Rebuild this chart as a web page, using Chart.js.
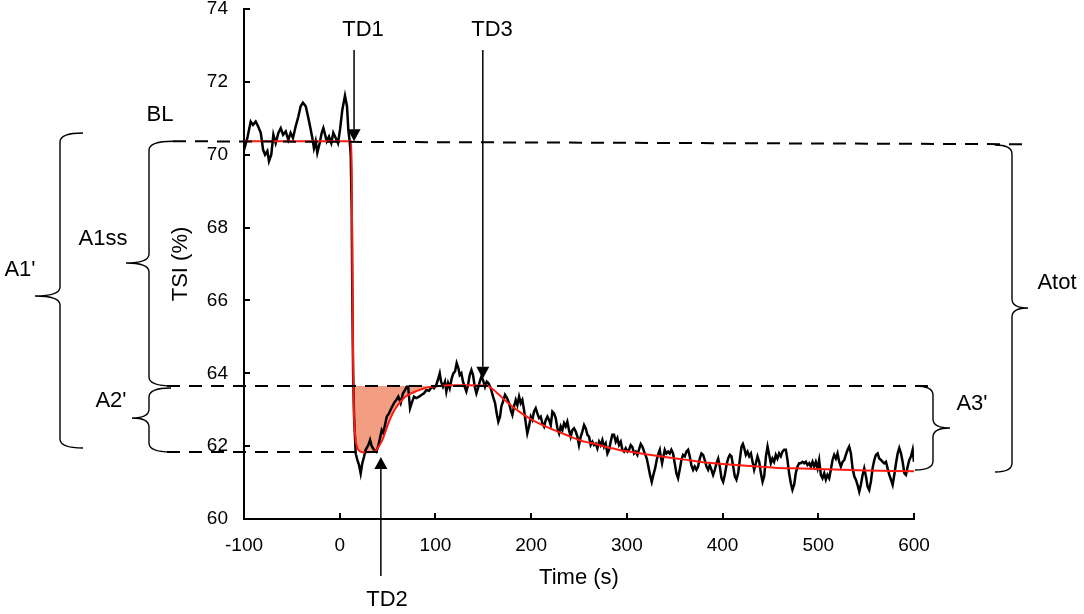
<!DOCTYPE html>
<html>
<head>
<meta charset="utf-8">
<script src="https://cdn.jsdelivr.net/npm/chart.js@4.4.1/dist/chart.umd.min.js"></script>
<style>
	html, body { margin: 0; padding: 0; background: #fff; }
	#wrap { width: 1084px; height: 614px; position: relative; }
</style>
</head>
<body>
<div id="wrap"><canvas id="tsi"></canvas></div>
<script>
// TSI response: raw trace, fitted curve and annotation levels

const timeS = [
	-100, -96.5, -93, -90.6, -87.8, -85.3, -82.5, -80, -78, -75.6, -73.9, -71.5, -69.3, -66.9, -64.1, -61.6, -59.2, -56.4, -53.7, -51.3,
	-48.8, -46, -43.2, -40.8, -38.4, -35.5, -33.1, -31, -28.6, -26.9, -25.1, -23.4, -20.9, -18.8, -17.1, -15.3, -13.6, -11.2, -8.8, -6.7,
	-4.2, -1.8, 0.3, 2.7, 5.5, 7.6, 9, 10.4, 11.5, 12.5, 13.2, 14, 15, 16.7, 18.4, 20.2, 21.9, 23.6, 25.4, 27.1,
	29.9, 31.7, 33.4, 35.8, 38.2, 40.3, 42.1, 43.9, 45.6, 47.3, 49.1, 51.5, 53.9, 56.7, 59.1, 61.2, 63.7, 66.1, 68.2, 70,
	71.5, 72.4, 73.5, 75.2, 77.6, 80, 82.9, 85.7, 88.1, 90.5, 93.3, 96.1, 98.5, 100.9, 103, 104.5, 105.9, 107.9, 110, 111.4,
	113.2, 114.9, 117, 118.7, 120.5, 122.2, 124, 125.4, 127.1, 128.8, 130.6, 132.3, 134.1, 135.8, 137.6, 139.3, 141.1, 142.8, 144.5, 146.3,
	148, 149.7, 151.8, 153.6, 155.3, 157.8, 160.2, 162.3, 164, 165.7, 167.5, 168.9, 170.6, 172.7, 174.8, 176.9, 178.7, 180.4, 182.1, 183.9,
	185.6, 187.4, 189.1, 190.8, 192.6, 194.4, 196, 197.8, 199.6, 201.3, 203, 204.8, 206.5, 208.3, 210, 211.7, 213.5, 215.3, 217, 218.7,
	220.5, 222.2, 223.9, 225.7, 227.4, 229.2, 230.9, 232.6, 234.4, 236.1, 237.8, 239.6, 241.3, 243, 244.8, 246.6, 248.3, 250, 251.8, 253.5,
	255.3, 257, 258.8, 260.5, 262.2, 264, 265.7, 267.5, 269.2, 271, 272.6, 274.4, 276.2, 277.9, 279.7, 281.4, 283.1, 284.8, 286.6, 288.4,
	290.1, 291.8, 293.6, 295.3, 297.1, 298.8, 300.6, 302.3, 304, 305.7, 307.5, 309.3, 311, 314.5, 316.2, 318.7, 320.8, 322.5, 324.2, 326,
	327.7, 329.5, 331.2, 333, 334.4, 335.4, 336.8, 338.2, 339.6, 341.3, 343.1, 344.8, 346.5, 348.3, 350, 351.8, 353.5, 355.2, 357, 358.7,
	360.5, 362.2, 364, 365.7, 367.4, 369.2, 370.9, 372.7, 374.4, 376.2, 377.9, 379.7, 381.4, 383.2, 384.9, 386.6, 388.4, 390.1, 391.9, 393.6,
	395.4, 397.1, 398.9, 400.6, 402.3, 404.1, 405.8, 407.6, 409.3, 411.1, 412.8, 414.5, 416.3, 418, 419.8, 421.2, 422.6, 424.3, 426.1, 427.8,
	429.6, 431.3, 433, 434.8, 436.5, 438.3, 440, 441.8, 443.5, 445.3, 447, 450.4, 452.1, 453.8, 455.6, 457.3, 459.1, 460.8, 462.6, 464.3,
	466.1, 467.8, 469.5, 471.3, 473, 474.8, 476.5, 478.3, 480, 481.7, 483.5, 485.2, 487, 488.7, 490.5, 492.2, 494, 495.7, 497.4, 499.2,
	500.9, 502.7, 504.4, 506.2, 507.9, 509.6, 511.4, 513.1, 514.9, 516.6, 518.4, 520.1, 521.9, 523.6, 525.3, 527.1, 528.8, 530.6, 532.3, 534.1,
	535.8, 537.6, 539.3, 541, 542.8, 544.5, 546.3, 548, 549.8, 551.5, 553.2, 555, 556.7, 558.5, 560.2, 562, 563.7, 565.5, 567.2, 568.9,
	570.7, 572.4, 574.2, 575.9, 577.7, 579.4, 581.2, 582.9, 584.6, 586.4, 588.1, 589.9, 591.6, 593.4, 595.1, 596.9, 598.6, 600
];
const tsiPct = [
	70.13, 70.46, 70.91, 70.82, 70.91, 70.78, 70.60, 70.13, 70.00, 70.10, 69.82, 70.00, 70.55, 70.32, 70.60, 70.73, 70.55, 70.64, 70.41, 70.60,
	70.46, 70.78, 71.05, 71.33, 71.43, 71.33, 71.05, 70.78, 70.46, 70.18, 70.37, 70.05, 70.32, 70.60, 70.73, 70.55, 70.37, 70.50, 70.32, 70.60,
	70.46, 70.32, 70.68, 71.23, 71.62, 71.33, 70.68, 70.37, 70.00, 68.50, 66.00, 64.00, 62.80, 61.80, 61.62, 61.48, 61.25, 61.53, 61.71, 61.90,
	62.03, 62.17, 62.00, 61.90, 61.85, 62.00, 62.22, 62.44, 62.36, 62.58, 62.81, 62.90, 63.04, 63.18, 63.27, 63.36, 63.18, 63.45, 63.54, 63.63,
	63.63, 63.36, 63.04, 63.18, 63.36, 63.32, 63.36, 63.41, 63.45, 63.54, 63.52, 63.63, 63.59, 63.68, 63.86, 64.00, 63.77, 63.63, 63.77, 63.50,
	63.73, 63.59, 63.86, 64.00, 64.05, 64.28, 64.14, 63.95, 64.00, 63.77, 63.63, 63.50, 63.68, 63.95, 64.09, 63.95, 63.63, 63.45, 63.59, 63.77,
	63.91, 63.82, 63.63, 63.77, 63.73, 63.59, 63.36, 63.18, 62.90, 62.67, 62.81, 63.09, 63.22, 63.41, 63.32, 63.18, 62.99, 62.86, 63.09, 63.27,
	63.13, 63.36, 63.18, 63.27, 62.99, 62.63, 62.35, 62.54, 62.81, 62.72, 62.95, 63.04, 62.90, 62.77, 62.81, 62.63, 62.54, 62.72, 62.81, 62.72,
	62.58, 62.95, 62.90, 62.77, 62.49, 62.35, 62.54, 62.44, 62.63, 62.54, 62.67, 62.44, 62.26, 62.44, 62.49, 62.40, 62.26, 62.03, 62.26, 62.40,
	62.58, 62.49, 62.31, 62.26, 62.03, 62.12, 62.03, 62.07, 61.94, 62.12, 62.03, 62.17, 61.98, 62.07, 61.80, 61.90, 62.12, 62.31, 62.31, 62.12,
	62.22, 62.03, 62.12, 61.90, 61.85, 61.94, 61.85, 61.90, 62.03, 61.98, 61.80, 61.85, 61.76, 62.06, 61.99, 61.80, 61.66, 61.44, 61.21, 61.02,
	61.21, 61.39, 61.62, 61.80, 61.90, 61.72, 61.53, 61.72, 61.90, 61.80, 61.85, 61.80, 61.90, 61.80, 61.53, 61.25, 61.12, 61.35, 61.62, 61.76,
	61.72, 61.85, 61.90, 61.72, 61.48, 61.35, 61.44, 61.35, 61.44, 61.66, 61.80, 61.76, 61.62, 61.44, 61.35, 61.48, 61.35, 61.21, 61.35, 61.53,
	61.66, 61.44, 61.12, 61.02, 61.21, 61.48, 61.66, 61.76, 61.72, 61.44, 61.17, 61.08, 61.26, 61.62, 61.99, 62.06, 61.95, 61.76, 61.85, 61.72,
	61.80, 61.57, 61.35, 61.53, 61.72, 61.57, 61.26, 61.02, 61.17, 61.72, 61.99, 61.53, 61.66, 61.57, 61.76, 61.66, 61.80, 61.72, 61.85, 61.90,
	61.90, 61.62, 61.26, 60.98, 60.80, 60.94, 61.26, 61.44, 61.53, 61.53, 61.57, 61.53, 61.57, 61.48, 61.53, 61.44, 61.57, 61.44, 61.57, 61.39,
	61.62, 61.21, 61.12, 61.26, 61.08, 61.21, 61.12, 61.35, 61.62, 61.76, 61.66, 61.80, 61.57, 61.44, 61.57, 61.62, 61.76, 61.90, 61.99, 61.80,
	61.39, 61.17, 61.08, 60.94, 60.75, 60.94, 61.21, 61.39, 61.17, 60.89, 60.80, 61.03, 61.39, 61.62, 61.76, 61.80, 61.66, 61.62, 61.57, 61.53,
	61.57, 61.39, 61.21, 61.08, 60.94, 61.21, 61.53, 61.80, 61.95, 61.80, 61.57, 61.26, 61.21, 61.44, 61.62, 61.72, 61.90, 61.57
];

// fitted model (red)
const fitTime = [
	-100, 12, 12.5, 13, 13.5, 14, 14.5, 15.2, 16.5, 18.5, 21, 25, 30, 35, 38, 41, 44.6, 48, 51.5, 55,
	58.4, 63, 68.8, 74, 79.3, 86, 93.3, 103, 114, 130, 154, 160, 166.5, 173, 180.4, 189, 197.8, 206, 215.3, 224,
	232.6, 241, 250, 258, 267.5, 276, 284.8, 293, 302.3, 320, 340, 360, 380, 400, 425, 454, 475, 500, 525, 550,
	575, 600
];
const fitTsi = [
	70.37, 70.37, 69.6, 67.8, 65.8, 64.3, 63.4, 62.7, 62.2, 61.95, 61.86, 61.83, 61.83, 61.85, 61.88, 62.0, 62.17, 62.42, 62.67, 62.88,
	63.04, 63.2, 63.36, 63.44, 63.5, 63.57, 63.62, 63.65, 63.67, 63.67, 63.66, 63.56, 63.41, 63.25, 63.09, 62.92, 62.77, 62.65, 62.54, 62.44,
	62.35, 62.26, 62.17, 62.11, 62.06, 61.99, 61.94, 61.89, 61.85, 61.78, 61.70, 61.63, 61.56, 61.51, 61.46, 61.41, 61.39, 61.37, 61.35, 61.33,
	61.32, 61.31
];

// annotation levels and time markers
const baselineTsi = 70.37;
const plateauTsi = 63.65;
const troughTsi = 61.84;
const tdTime = [15, 43, 149.5];        // TD1, TD2, TD3
const tdTipTsi = [70.37, 61.70, 63.85];
const areaFrom = 14.5, areaTo = 103;

const xTicks = [-100, 0, 100, 200, 300, 400, 500, 600];
const yTicks = [60, 62, 64, 66, 68, 70, 72, 74];

const FONT = '"Liberation Sans", Arial, sans-serif';

const pts = (xs, ys) => xs.map((t, i) => ({ x: t, y: ys[i] }));
const fitPts = pts(fitTime, fitTsi);
const areaPts = fitPts.filter(p => p.x >= areaFrom && p.x <= areaTo);

function brace(ctx, xv, xt, xe, top, tip, bot) {
	const r = 9;
	ctx.beginPath();
	ctx.moveTo(xe, top);
	ctx.quadraticCurveTo(xv, top, xv, top + r);
	ctx.lineTo(xv, tip - r);
	ctx.quadraticCurveTo(xv, tip, xt, tip);
	ctx.quadraticCurveTo(xv, tip, xv, tip + r);
	ctx.lineTo(xv, bot - r);
	ctx.quadraticCurveTo(xv, bot, xe, bot);
	ctx.stroke();
}
function arrow(ctx, x, y0, yTip) {
	const dir = yTip > y0 ? 1 : -1;
	const h = 12, w = 6.5;
	ctx.beginPath();
	ctx.moveTo(x, y0);
	ctx.lineTo(x, yTip - dir * h);
	ctx.stroke();
	ctx.beginPath();
	ctx.moveTo(x, yTip);
	ctx.lineTo(x - w, yTip - dir * h);
	ctx.lineTo(x + w, yTip - dir * h);
	ctx.closePath();
	ctx.fill();
}

const annotations = {
	id: 'annotations',
	afterDatasetsDraw(chart) {
		const { ctx, scales: { x, y } } = chart;
		const yb = y.getPixelForValue(baselineTsi);
		const yp = y.getPixelForValue(plateauTsi);
		const yt = y.getPixelForValue(troughTsi);
		ctx.save();
		ctx.strokeStyle = '#000';
		ctx.fillStyle = '#000';

		// dashed reference levels
		ctx.lineWidth = 2;
		ctx.setLineDash([13, 9]);
		ctx.beginPath(); ctx.moveTo(173, yb); ctx.lineTo(1030, yb + 3); ctx.stroke();
		ctx.beginPath(); ctx.moveTo(167, yp); ctx.lineTo(935, yp); ctx.stroke();
		ctx.beginPath(); ctx.moveTo(167, yt); ctx.lineTo(x.getPixelForValue(tdTime[1]) + 4, yt); ctx.stroke();
		ctx.setLineDash([]);

		// TD arrows
		ctx.lineWidth = 1.5;
		arrow(ctx, x.getPixelForValue(tdTime[0]), 50, y.getPixelForValue(tdTipTsi[0]));
		arrow(ctx, x.getPixelForValue(tdTime[1]), 576, y.getPixelForValue(tdTipTsi[1]));
		arrow(ctx, x.getPixelForValue(tdTime[2]), 50, y.getPixelForValue(tdTipTsi[2]));

		// braces
		ctx.lineWidth = 1.4;
		brace(ctx, 60, 35, 83, 133, 296, 448);            // A1'
		brace(ctx, 149, 126, 173, yb, 263, yp);           // A1ss
		brace(ctx, 149, 132, 171, yp + 2, 418, yt);       // A2'
		brace(ctx, 1012, 1028, 995, 145, 308, 472);       // Atot
		brace(ctx, 933, 950, 915, yp, 428, 470);          // A3'

		// labels
		ctx.font = '22px ' + FONT;
		ctx.textAlign = 'center';
		ctx.textBaseline = 'middle';
		const lab = [
			['TD1', 363, 30], ['TD3', 492, 30], ['TD2', 387, 600], ['BL', 160, 115],
			["A1'", 20, 270], ['A1ss', 103, 239], ["A2'", 111, 401], ['Atot', 1057, 283], ["A3'", 972, 404]
		];
		lab.forEach(([t, lx, ly]) => ctx.fillText(t, lx, ly));
		ctx.restore();
	}
};

new Chart(document.getElementById('tsi'), {
	type: 'line',
	data: {
		datasets: [
			{ label: 'area', data: areaPts, borderWidth: 0, pointRadius: 0, fill: { value: plateauTsi }, backgroundColor: 'rgb(243,158,130)', tension: 0, order: 3 },
			{ label: 'TSI', data: pts(timeS, tsiPct), borderColor: '#000', borderWidth: 2.5, pointRadius: 0, fill: false, tension: 0, order: 2 },
			{ label: 'fit', data: fitPts, borderColor: '#ff1a10', borderWidth: 2, pointRadius: 0, fill: false, tension: 0.3, cubicInterpolationMode: 'monotone', order: 1 }
		]
	},
	options: {
		responsive: true,
		maintainAspectRatio: false,
		animation: false,
		layout: { padding: { left: 168, right: 170, top: 9, bottom: 23 } },
		plugins: { legend: { display: false }, tooltip: { enabled: false } },
		scales: {
			x: {
				type: 'linear', min: -100, max: 600,
				afterBuildTicks: s => { s.ticks = xTicks.map(v => ({ value: v })); },
				afterFit: s => { s.height = 72; s.paddingLeft = 0; s.paddingRight = 0; },
				border: { color: '#000', width: 2 },
				grid: { drawOnChartArea: false, drawTicks: true, tickLength: -6, color: '#000', lineWidth: 2 },
				ticks: { color: '#000', padding: 21, maxRotation: 0, font: { family: FONT, size: 19 } },
				title: { display: true, text: 'Time (s)', color: '#000', padding: 0, font: { family: FONT, size: 22 } }
			},
			y: {
				min: 60, max: 74,
				afterBuildTicks: s => { s.ticks = yTicks.map(v => ({ value: v })); },
				afterFit: s => { s.width = 76; s.paddingTop = 0; s.paddingBottom = 0; },
				border: { color: '#000', width: 2 },
				grid: { drawOnChartArea: false, drawTicks: true, tickLength: -6, color: '#000', lineWidth: 2 },
				ticks: { color: '#000', padding: 22, font: { family: FONT, size: 19 } },
				title: { display: true, text: 'TSI (%)', color: '#000', padding: 0, font: { family: FONT, size: 22 } }
			}
		}
	},
	plugins: [annotations]
});
</script>
</body>
</html>
